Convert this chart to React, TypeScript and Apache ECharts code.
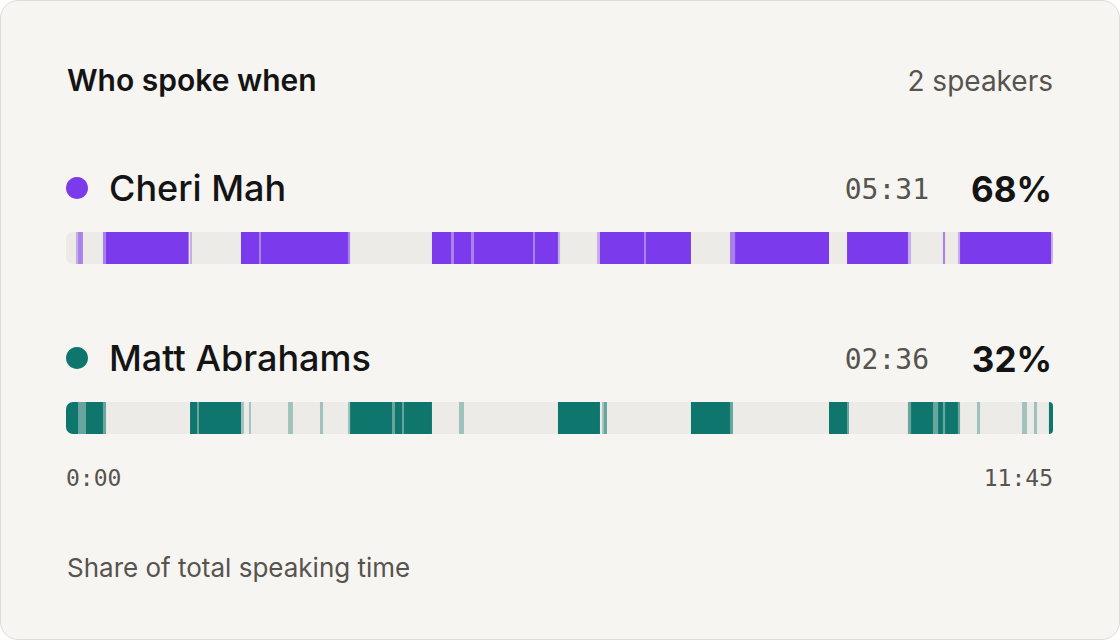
/** Speaker diarization timeline: who spoke when, drawn from segment lists. */
import * as echarts from "echarts";
import { useEffect, useRef } from "react";

const TOTAL_SECONDS = 705; // 11:45

const speakers = ["Cheri Mah", "Matt Abrahams"];
const speakerColors = ["#7c3aed", "#0f766e"];
const speakerSeconds = [331, 156];
const axisTicks = [0, TOTAL_SECONDS];

// [start s, end s, confidence]
const cheriSegments: [number, number, number][] = [
  [7.1, 8.6, 0.35], [8.6, 12.1, 0.6], [26.4, 28.6, 0.6], [28.6, 87.6, 1], [88.6, 90, 0.35],
  [125, 137.9, 1], [137.9, 139.3, 0.6], [139.3, 201.4, 1], [201.4, 202.9, 0.6],
  [261.4, 275, 1], [275, 277.1, 0.6], [277.1, 289.3, 1], [289.3, 291.4, 0.6], [291.4, 333.6, 1],
  [333.6, 335, 0.6], [335, 351.4, 1], [351.4, 352.9, 0.35],
  [379.3, 381.4, 0.35], [381.4, 412.9, 1], [412.9, 414.3, 0.6], [414.3, 446.4, 1],
  [474.3, 477.9, 0.6], [477.9, 545, 1], [557.9, 601.4, 1], [601.4, 603.6, 0.35],
  [626.4, 627.9, 0.6], [637.1, 638.6, 0.35], [638.6, 703.6, 1], [703.6, 705, 0.35],
];

const mattSegments: [number, number, number][] = [
  [0, 8.6, 1], [8.6, 14.3, 0.6], [14.3, 26.4, 1], [26.4, 28.6, 0.6],
  [88.6, 93.6, 1], [93.6, 95, 0.6], [95, 125, 1], [125, 127.1, 0.35], [130.7, 132.1, 0.35],
  [158.6, 162.1, 0.35], [181.4, 183.6, 0.35], [201.4, 202.9, 0.35],
  [202.9, 232.9, 1], [232.9, 235, 0.6], [235, 240, 1], [240, 241.4, 0.6], [241.4, 261.4, 1],
  [280.7, 284.3, 0.35], [351.4, 381.4, 1], [382.9, 384.3, 0.35], [384.3, 386.4, 0.6],
  [446.4, 474.3, 1], [474.3, 476.4, 0.6], [545, 557.9, 1], [557.9, 559.3, 0.6],
  [601.4, 603.6, 0.6], [603.6, 619.3, 1], [619.3, 622.9, 0.6], [622.9, 626.4, 1],
  [626.4, 627.9, 0.6], [627.9, 637.1, 1], [637.1, 638.6, 0.6],
  [650.7, 652.9, 0.35], [682.9, 686.4, 0.35], [691.4, 693.6, 0.35], [702.1, 705, 1],
];

const segmentsBySpeaker = [cheriSegments, mattSegments];

const SANS = "Inter, 'Noto Sans', sans-serif";
const MONO = "'DejaVu Sans Mono', monospace";
const INK = "#141414";
const MUTED = "#57534e";
const TRACK = "#edebe7";
const BAR_H = 32;
const RADIUS = 7;

const mmss = (s: number, pad: boolean) => {
  const m = Math.floor(s / 60);
  const sec = String(Math.round(s % 60)).padStart(2, "0");
  return `${pad ? String(m).padStart(2, "0") : m}:${sec}`;
};

export default function App() {
  const box = useRef<HTMLDivElement>(null);

  useEffect(() => {
    if (!box.current) return;
    const c = echarts.init(box.current, undefined, { renderer: "svg" });
    const total = speakerSeconds.reduce((a, b) => a + b, 0);

    const segData = segmentsBySpeaker.flatMap((segs, row) =>
      segs.map(([s, e, conf]) => [row, s, e, conf]),
    );
    const trackData = speakers.map((_, row) => [row, 0, TOTAL_SECONDS]);

    // header rows above each bar
    const rowTexts = speakers.flatMap((name, i) => {
      const y = 188 + i * 170;
      return [
        { type: "circle", shape: { cx: 77, cy: y, r: 11 }, style: { fill: speakerColors[i] } },
        {
          type: "text", x: 109, y,
          style: { text: name, font: `500 36px ${SANS}`, fill: INK, verticalAlign: "middle" },
        },
        {
          type: "text", x: 929, y: y + 1,
          style: { text: mmss(speakerSeconds[i], true), font: `400 28px ${MONO}`, fill: MUTED, align: "right", verticalAlign: "middle" },
        },
        {
          type: "text", x: 1052, y: y + 1,
          style: { text: `${Math.round((speakerSeconds[i] / total) * 100)}%`, font: `700 35px ${SANS}`, fill: INK, align: "right", verticalAlign: "middle" },
        },
      ];
    });

    c.setOption({
      animation: false,
      grid: { left: 66, right: 67, top: 163, bottom: 137 },
      xAxis: {
        type: "value",
        min: axisTicks[0],
        max: axisTicks[1],
        interval: TOTAL_SECONDS,
        offset: -45,
        axisLine: { show: false },
        axisTick: { show: false },
        splitLine: { show: false },
        axisLabel: {
          formatter: (v: number) => mmss(v, false),
          fontFamily: MONO,
          fontSize: 23,
          color: MUTED,
          margin: 8,
          alignMinLabel: "left",
          alignMaxLabel: "right",
        },
      },
      yAxis: {
        type: "category",
        data: speakers,
        inverse: true,
        show: false,
      },
      graphic: [
        {
          type: "text", x: 67, y: 80,
          style: { text: "Who spoke when", font: `600 30px ${SANS}`, fill: INK, verticalAlign: "middle" },
        },
        {
          type: "text", x: 1053, y: 81,
          style: { text: `${speakers.length} speakers`, font: `400 28px ${SANS}`, fill: MUTED, align: "right", verticalAlign: "middle" },
        },
        ...rowTexts,
        {
          type: "text", x: 67, y: 567,
          style: { text: "Share of total speaking time", font: `400 26px ${SANS}`, fill: MUTED, verticalAlign: "middle" },
        },
      ],
      series: [
        {
          type: "custom",
          z: 1,
          data: trackData,
          encode: { x: [1, 2], y: 0 },
          renderItem: (_p: unknown, api: any) => {
            const a = api.coord([api.value(1), api.value(0)]);
            const b = api.coord([api.value(2), api.value(0)]);
            return {
              type: "rect",
              shape: { x: a[0], y: a[1] - BAR_H / 2, width: b[0] - a[0], height: BAR_H, r: RADIUS },
              style: { fill: TRACK },
            };
          },
        },
        {
          type: "custom",
          z: 2,
          data: segData,
          encode: { x: [1, 2], y: 0 },
          renderItem: (_p: unknown, api: any) => {
            const row = api.value(0);
            const s = api.value(1);
            const e = api.value(2);
            const a = api.coord([s, row]);
            const b = api.coord([e, row]);
            const l = s <= 0 ? RADIUS : 0;
            const r = e >= TOTAL_SECONDS ? RADIUS : 0;
            return {
              type: "rect",
              shape: { x: a[0], y: a[1] - BAR_H / 2, width: b[0] - a[0], height: BAR_H, r: [l, r, r, l] },
              style: { fill: speakerColors[row], opacity: api.value(3) },
            };
          },
        },
      ],
    });

    return () => c.dispose();
  }, []);

  return (
    <div style={{ position: "fixed", left: 0, top: 0, width: 1120, height: 640, background: "#ffffff" }}>
      <div
        style={{
          position: "absolute", inset: 0, boxSizing: "border-box",
          border: "1.5px solid #dedbd6", borderRadius: 18, background: "#f6f5f2",
        }}
      />
      <div ref={box} style={{ position: "absolute", left: 0, top: 0, width: 1120, height: 640 }} />
    </div>
  );
}
